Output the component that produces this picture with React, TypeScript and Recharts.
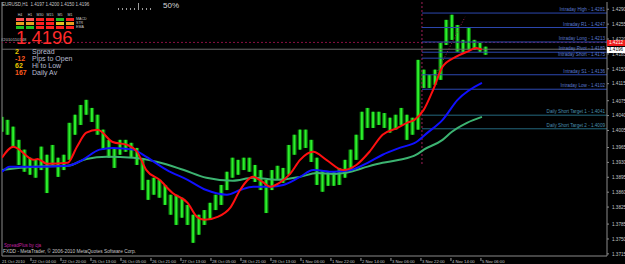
import { ComposedChart, Bar, Line, XAxis, YAxis, ReferenceLine } from 'recharts';

// bottom time labels, one every 16 hourly bars
const xLabels = [
    '21 Oct 2010', '22 Oct 04:00', '22 Oct 20:00', '25 Oct 13:00', '26 Oct 05:00', '26 Oct 21:00',
    '27 Oct 13:00', '28 Oct 05:00', '28 Oct 21:00', '29 Oct 13:00', '1 Nov 06:00', '1 Nov 22:00',
    '2 Nov 14:00', '3 Nov 06:00', '3 Nov 22:00', '4 Nov 14:00', '5 Nov 06:00',
];
const xTicks = [0, 16, 32, 48, 64, 80, 96, 112, 128, 144, 160, 176, 192, 208, 224, 240, 256];

const yTicks = [
    1.429, 1.4255, 1.422, 1.4185, 1.415, 1.4115, 1.4075, 1.404, 1.4005, 1.3965, 1.393, 1.3895, 1.386,
    1.3825, 1.3785, 1.375, 1.3715,
];

// one bar every 3 hours (hour = index * 3)
const barHigh = [
    1.4037, 1.403, 1.4014, 1.3983, 1.396, 1.3941, 1.3936, 1.3967, 1.3948, 1.3971,
    1.3941, 1.3948, 1.4023, 1.4042, 1.4065, 1.4077, 1.4058, 1.4042, 1.4007, 1.3983,
    1.3964, 1.3983, 1.3983, 1.3976, 1.3964, 1.3936, 1.3889, 1.3894, 1.3889, 1.3877,
    1.3854, 1.3854, 1.3847, 1.383, 1.3807, 1.3807, 1.3818, 1.3835, 1.3854, 1.3877,
    1.3908, 1.3941, 1.3936, 1.3941, 1.3941, 1.3924, 1.3912, 1.3889, 1.3912, 1.3922,
    1.3917, 1.3971, 1.3995, 1.4007, 1.4007, 1.3983, 1.3941, 1.3912, 1.3908, 1.3908,
    1.3917, 1.3936, 1.396, 1.3995, 1.4049, 1.4058, 1.4049, 1.4049, 1.4046, 1.4035,
    1.4042, 1.4058, 1.4042, 1.4035, 1.4171, 1.4148, 1.4136, 1.4148, 1.4211, 1.4265,
    1.4277, 1.4253, 1.4218, 1.4246, 1.4218, 1.4211, 1.4202,
];
const barLow = [
    1.4002, 1.3995, 1.3967, 1.3924, 1.3908, 1.3901, 1.3894, 1.3912, 1.3858, 1.3924,
    1.3896, 1.3912, 1.3936, 1.3995, 1.4018, 1.4042, 1.4025, 1.3995, 1.396, 1.3941,
    1.3917, 1.3948, 1.3955, 1.3941, 1.3924, 1.3865, 1.3842, 1.3854, 1.3847, 1.383,
    1.3807, 1.3783, 1.38, 1.3783, 1.3741, 1.376, 1.3783, 1.3795, 1.3818, 1.383,
    1.3865, 1.3894, 1.3901, 1.3912, 1.3908, 1.3884, 1.3865, 1.3811, 1.3865, 1.3889,
    1.3882, 1.3901, 1.3948, 1.396, 1.3964, 1.3931, 1.3877, 1.3861, 1.3875, 1.3875,
    1.3877, 1.3894, 1.3912, 1.3936, 1.3983, 1.4011, 1.4011, 1.4018, 1.4011, 1.4,
    1.4007, 1.4018, 1.3983, 1.3995, 1.4007, 1.4105, 1.4105, 1.4112, 1.4124, 1.4206,
    1.4218, 1.419, 1.4188, 1.4195, 1.4195, 1.419, 1.4183,
];

// moving averages
const redT = [0, 6, 17, 19, 24, 35, 40, 45, 51, 59, 67, 72, 77, 84, 91, 99, 104, 108, 115, 122, 127, 134, 139, 143, 148, 154, 159, 166, 173, 182, 189, 196, 203, 211, 216, 220, 225, 230, 235, 242, 248, 253, 256];
const redV = [1.3941, 1.3967, 1.3936, 1.3938, 1.3927, 1.3929, 1.3967, 1.4, 1.4007, 1.3978, 1.3971, 1.3955, 1.3912, 1.3889, 1.3858, 1.3835, 1.3802, 1.3795, 1.3802, 1.3825, 1.3865, 1.3896, 1.3884, 1.3873, 1.3882, 1.3905, 1.3936, 1.3955, 1.3936, 1.3912, 1.3924, 1.3955, 1.3995, 1.4011, 1.4023, 1.403, 1.4054, 1.4101, 1.4155, 1.4178, 1.419, 1.4199, 1.4195];
const blueT = [0, 4, 17, 35, 43, 52, 59, 70, 77, 88, 99, 109, 120, 127, 134, 143, 150, 159, 166, 177, 186, 195, 203, 212, 221, 227, 235, 243, 256];
const blueV = [1.3908, 1.392, 1.392, 1.3922, 1.3936, 1.396, 1.3964, 1.396, 1.3943, 1.3912, 1.3889, 1.3865, 1.3854, 1.3865, 1.3873, 1.3873, 1.3877, 1.3896, 1.3912, 1.3908, 1.3912, 1.3929, 1.3948, 1.3964, 1.3978, 1.4, 1.403, 1.4077, 1.4117];
const greenT = [0, 17, 35, 45, 56, 70, 83, 97, 109, 123, 134, 147, 159, 168, 177, 186, 195, 203, 212, 221, 225, 235, 240, 248, 256];
const greenV = [1.3912, 1.392, 1.3922, 1.3938, 1.3943, 1.3941, 1.3931, 1.3912, 1.3894, 1.3887, 1.3894, 1.3889, 1.3896, 1.3905, 1.3903, 1.3908, 1.392, 1.3929, 1.3936, 1.3948, 1.396, 1.3983, 1.4002, 1.4023, 1.4037];

// pivot levels drawn from the session start
const levelNames = ['Intraday High', 'Intraday R1', 'Intraday Long', 'Intraday Pivot', 'Intraday Short', 'Intraday S1', 'Intraday Low', 'Daily Short Target 1', 'Daily Short Target 2'];
const levelValues = [1.4281, 1.4247, 1.4213, 1.4189, 1.4175, 1.4136, 1.4102, 1.4041, 1.4009];

const askPrice = 1.4212;
const bidPrice = 1.4196;
const sessionStart = 224;

const infoValues = ['2', '-12', '62', '167'];
const infoNames = ['Spread', 'Pips to Open', 'Hi to Low', 'Daily Av'];
const infoColors = ['#e8c800', '#ff5a1e', '#e8c800', '#ff5a1e'];

const tfNames = ['H4', 'H1', 'M30', 'M15', 'M5', 'M1'];
const tfRows = ['MACD', 'STR', 'EMA'];
const tfColors = [
    ['#ff5050', '#ff5050', '#ff2020', '#ff2020', '#20c020', '#ff2020'],
    ['#e8a020', '#e8a020', '#ff2020', '#ff2020', '#e8c020', '#e8a020'],
    ['#20c020', '#20c020', '#ff2020', '#ff2020', '#ff2020', '#ff2020'],
];

const bars = barHigh.map((h, i) => ({ t: i * 3, range: [barLow[i], h] }));
const redData = redT.map((t, i) => ({ t, v: redV[i] }));
const blueData = blueT.map((t, i) => ({ t, v: blueV[i] }));
const greenData = greenT.map((t, i) => ({ t, v: greenV[i] }));

const XTick = ({ x, y, payload }: any) => (
    <g>
        {payload.value > 0 && <line x1={x - 1} x2={x - 1} y1={y} y2={y + 3} stroke='#9a9a9a' />}
        <text x={x} y={y + 4.8} fontSize={4.2} fill='#c8c8c8'>
            {xLabels[Math.round(payload.value / 16)]}
        </text>
    </g>
);

const YTick = ({ x, y, payload }: any) => (
    <text x={x + 1} y={y + 1.8} fontSize={4.6} fill='#c8c8c8'>
        {payload.value.toFixed(4)}
    </text>
);

// hourly-bar look: dark green body with a bright centre stroke, fixed width
const PriceBar = ({ x, y, width, height }: any) => {
    if (height == null || height <= 0) return null;
    const cx = x + width / 2;
    return (
        <g>
            <rect x={cx - 2.2} y={y} width={4.4} height={height} fill='#0c7a0c' />
            <rect x={cx - 1} y={y} width={2} height={height} fill='#2cf02c' />
        </g>
    );
};

export default function App() {
    return (
        <div
            style={{
                position: 'absolute',
                left: 0,
                top: 0,
                width: 625,
                height: 264,
                background: '#000',
                overflow: 'hidden',
                fontFamily: '"Liberation Sans", Arial, sans-serif',
            }}
        >
            <ComposedChart width={625} height={264} data={bars} margin={{ top: 2, right: 0, left: 2, bottom: 0 }}>
                <XAxis
                    type='number'
                    dataKey='t'
                    domain={[0, 322.7]}
                    ticks={xTicks}
                    interval={0}
                    height={8}
                    tickSize={0}
                    tickLine={false}
                    axisLine={{ stroke: '#8a8a8a' }}
                    tick={<XTick />}
                    allowDataOverflow
                />
                <YAxis
                    orientation='right'
                    domain={[1.371, 1.4307]}
                    ticks={yTicks}
                    interval={0}
                    width={18}
                    tickSize={2}
                    tickLine={{ stroke: '#8a8a8a' }}
                    axisLine={{ stroke: '#8a8a8a' }}
                    tick={<YTick />}
                    allowDataOverflow
                />
                <ReferenceLine x={0} stroke='#8a8a8a' />
                <ReferenceLine y={askPrice} stroke='#8a1040' strokeDasharray='2 2' />
                <ReferenceLine y={bidPrice} stroke='#6a6a6a' />
                <ReferenceLine
                    segment={[
                        { x: sessionStart, y: 1.4307 },
                        { x: sessionStart, y: 1.3924 },
                    ]}
                    stroke='#a02058'
                    strokeDasharray='2 2'
                />
                {levelValues.map((v, i) => (
                    <ReferenceLine
                        key={levelNames[i]}
                        segment={[
                            { x: sessionStart, y: v },
                            { x: 322.7, y: v },
                        ]}
                        stroke={i < 7 ? '#2c48b0' : '#24687e'}
                        label={{
                            value: `${levelNames[i]}  -  ${v.toFixed(4)}`,
                            position: 'insideBottomRight',
                            offset: 2,
                            fontSize: 4.6,
                            fill: i < 7 ? '#5a7ad0' : '#4a90b0',
                        }}
                    />
                ))}
                <ReferenceLine
                    segment={[
                        { x: 231, y: 1.4133 },
                        { x: 247, y: 1.4272 },
                    ]}
                    stroke='#a02050'
                    strokeDasharray='1 2'
                />
                <Bar dataKey='range' fill='#22dd22' barSize={4} shape={<PriceBar />} isAnimationActive={false} />
                <Line data={greenData} dataKey='v' type='monotone' stroke='#3cb371' strokeWidth={2} dot={false} isAnimationActive={false} />
                <Line data={blueData} dataKey='v' type='monotone' stroke='#1010ff' strokeWidth={2} dot={false} isAnimationActive={false} />
                <Line data={redData} dataKey='v' type='monotone' stroke='#ff1010' strokeWidth={2} dot={false} isAnimationActive={false} />
            </ComposedChart>

            {/* header */}
            <div style={{ position: 'absolute', left: 2, top: 2, fontSize: 4.5, color: '#c8c8c8', whiteSpace: 'pre' }}>
                EURUSD,H1  1.4197 1.4200 1.4150 1.4196
            </div>
            <div style={{ position: 'absolute', left: 118, top: 3, width: 32, height: 7 }}>
                {[0, 4, 8, 12, 16, 20, 24, 28, 32].map((dx) => (
                    <div
                        key={dx}
                        style={{
                            position: 'absolute',
                            left: dx,
                            bottom: 0,
                            width: 1,
                            height: dx === 20 ? 7 : 2,
                            background: '#9a9a9a',
                        }}
                    />
                ))}
            </div>
            <div style={{ position: 'absolute', left: 163, top: 1, fontSize: 8, color: '#d8d8d8' }}>50%</div>

            {/* trend panel */}
            {tfNames.map((n, i) => (
                <div
                    key={n}
                    style={{ position: 'absolute', left: 16 + i * 10, top: 13, width: 8, textAlign: 'center', fontSize: 3.6, color: '#c8c8c8' }}
                >
                    {n}
                </div>
            ))}
            {tfColors.map((row, r) =>
                row.map((c, i) => (
                    <div
                        key={`${r}-${i}`}
                        style={{ position: 'absolute', left: 16 + i * 10, top: 18 + r * 4, width: 8, height: 3, background: c }}
                    />
                ))
            )}
            {tfRows.map((n, r) => (
                <div key={n} style={{ position: 'absolute', left: 76, top: 17 + r * 4, fontSize: 3.6, color: '#c8c8c8' }}>
                    {n}
                </div>
            ))}

            <div style={{ position: 'absolute', left: 1, top: 37, fontSize: 4.2, color: '#c0c0c0' }}>#2010110148</div>
            <div style={{ position: 'absolute', left: 16, top: 29, fontSize: 18.5, lineHeight: 1, color: '#ff2a2a' }}>1.4196</div>

            {infoValues.map((v, i) => (
                <div key={infoNames[i]} style={{ position: 'absolute', left: 15, top: 48 + i * 7, fontSize: 7, lineHeight: '7px', whiteSpace: 'pre' }}>
                    <span style={{ color: infoColors[i], fontWeight: 'bold' }}>{v}</span>
                    <span style={{ position: 'absolute', left: 17, color: '#b8bcd0' }}>{infoNames[i]}</span>
                </div>
            ))}

            {/* price boxes on the axis */}
            <div style={{ position: 'absolute', left: 607, top: 40, width: 18, height: 6, background: '#ee1c1c', color: '#fff', fontSize: 4.6, lineHeight: '6px', paddingLeft: 2 }}>
                {askPrice.toFixed(4)}
            </div>
            <div style={{ position: 'absolute', left: 607, top: 46.5, width: 18, height: 6, background: '#fff', color: '#000', fontSize: 4.6, lineHeight: '6px', paddingLeft: 2 }}>
                {bidPrice.toFixed(4)}
            </div>

            {/* footer */}
            <div style={{ position: 'absolute', left: 4, top: 243, fontSize: 4.6, color: '#c020a0' }}>SpreadPlus by cja</div>
            <div style={{ position: 'absolute', left: 3, top: 249, fontSize: 4.8, color: '#c8c8c8' }}>
                FXDD - MetaTrader, © 2006-2010 MetaQuotes Software Corp.
            </div>
        </div>
    );
}
